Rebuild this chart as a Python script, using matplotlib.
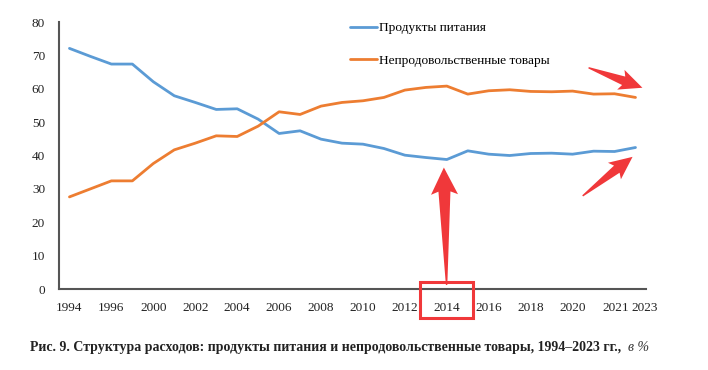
import numpy as np
import matplotlib.pyplot as plt
from matplotlib.patches import Rectangle, Polygon
from matplotlib.transforms import IdentityTransform

plt.rcParams['font.family'] = ['Liberation Serif', 'DejaVu Serif']

food = [72.1, 69.7, 67.4, 67.4, 62.1, 57.9, 55.9, 53.8, 54.0, 50.9, 46.6, 47.4, 44.9, 43.7,
        43.4, 42.1, 40.1, 39.4, 38.8, 41.4, 40.4, 40.0, 40.6, 40.7, 40.4, 41.3, 41.2, 42.4]
nonfood = [27.6, 30.0, 32.4, 32.4, 37.6, 41.7, 43.7, 45.9, 45.7, 48.8, 53.1, 52.3, 54.8, 55.9,
           56.4, 57.4, 59.6, 60.4, 60.8, 58.4, 59.4, 59.7, 59.2, 59.1, 59.3, 58.4, 58.5, 57.4]
tick_pos = [0, 2, 4, 6, 8, 10, 12, 14, 16, 18, 20, 22, 24, 26.05, 27.45]
tick_labels = ["1994", "1996", "2000", "2002", "2004", "2006", "2008", "2010", "2012",
               "2014", "2016", "2018", "2020", "2021", "2023"]

x = np.arange(len(food))

fig = plt.figure(figsize=(7.08, 3.70), dpi=100)
ax = fig.add_axes([0.0833, 0.2189, 0.8291, 0.7216])

ax.plot(x, food, color="#5b9bd5", lw=2.0, label="Продукты питания", solid_capstyle="round")
ax.plot(x, nonfood, color="#ed7d31", lw=2.0, label="Непродовольственные товары", solid_capstyle="round")

ax.set_xlim(-0.5, 27.5)
ax.set_ylim(0, 80)
ax.set_yticks(range(0, 81, 10))
ax.set_xticks(tick_pos)
ax.set_xticklabels(tick_labels)
ax.tick_params(axis="both", length=0, labelsize=9.5, colors="#222222")
ax.tick_params(axis="x", pad=9)
ax.tick_params(axis="y", pad=10)
for s in ["top", "right"]:
    ax.spines[s].set_visible(False)
for s in ["left", "bottom"]:
    ax.spines[s].set_color("#555555")
    ax.spines[s].set_linewidth(1.5)

ax.legend(loc="upper left", bbox_to_anchor=(0.476, 1.045), frameon=False, fontsize=9.6,
          handlelength=2.0, handletextpad=0.15, labelspacing=1.5)

red = "#f0383a"


def red_arrow(tail, tip, head_len, head_hw, shaft_hw, tail_hw=0.7, barb=3):
    # tapered arrow built in pixels so it keeps its shape
    p0 = ax.transData.transform(tail)
    p1 = ax.transData.transform(tip)
    d = p1 - p0
    u = d / np.hypot(*d)
    n = np.array([-u[1], u[0]])
    base = p1 - head_len * u
    wing = base - barb * u
    pts = [p0 + tail_hw * n, base + shaft_hw * n, wing + head_hw * n, p1,
           wing - head_hw * n, base - shaft_hw * n, p0 - tail_hw * n]
    fig.patches.append(Polygon(pts, closed=True, transform=IdentityTransform(),
                               fc=red, ec="none", zorder=5))


red_arrow((24.76, 66.3), (27.33, 60.3), 20, 10.5, 4.5)
red_arrow((24.48, 27.9), (26.86, 39.6), 20, 10.5, 4.5)
red_arrow((17.99, 1.2), (17.86, 36.4), 24, 13.5, 6.0)

fig.patches.append(Rectangle((420 / 708, 1 - 318 / 370), 53 / 708, 36 / 370,
                             transform=fig.transFigure, fill=False, ec=red, lw=2.2))

cap = fig.text(0.043, 0.06, "Рис. 9. Структура расходов: продукты питания и непродовольственные товары, 1994\u20132023 гг., ",
               fontsize=10, fontweight="bold", ha="left", va="center", color="#222222")
ax.annotate("в %", xy=(1.0, 0.0), xycoords=cap, xytext=(2, 0), textcoords="offset points",
            fontsize=10, fontstyle="italic", ha="left", va="bottom", color="#333333",
            annotation_clip=False)

fig.savefig("out.png", dpi=100)
